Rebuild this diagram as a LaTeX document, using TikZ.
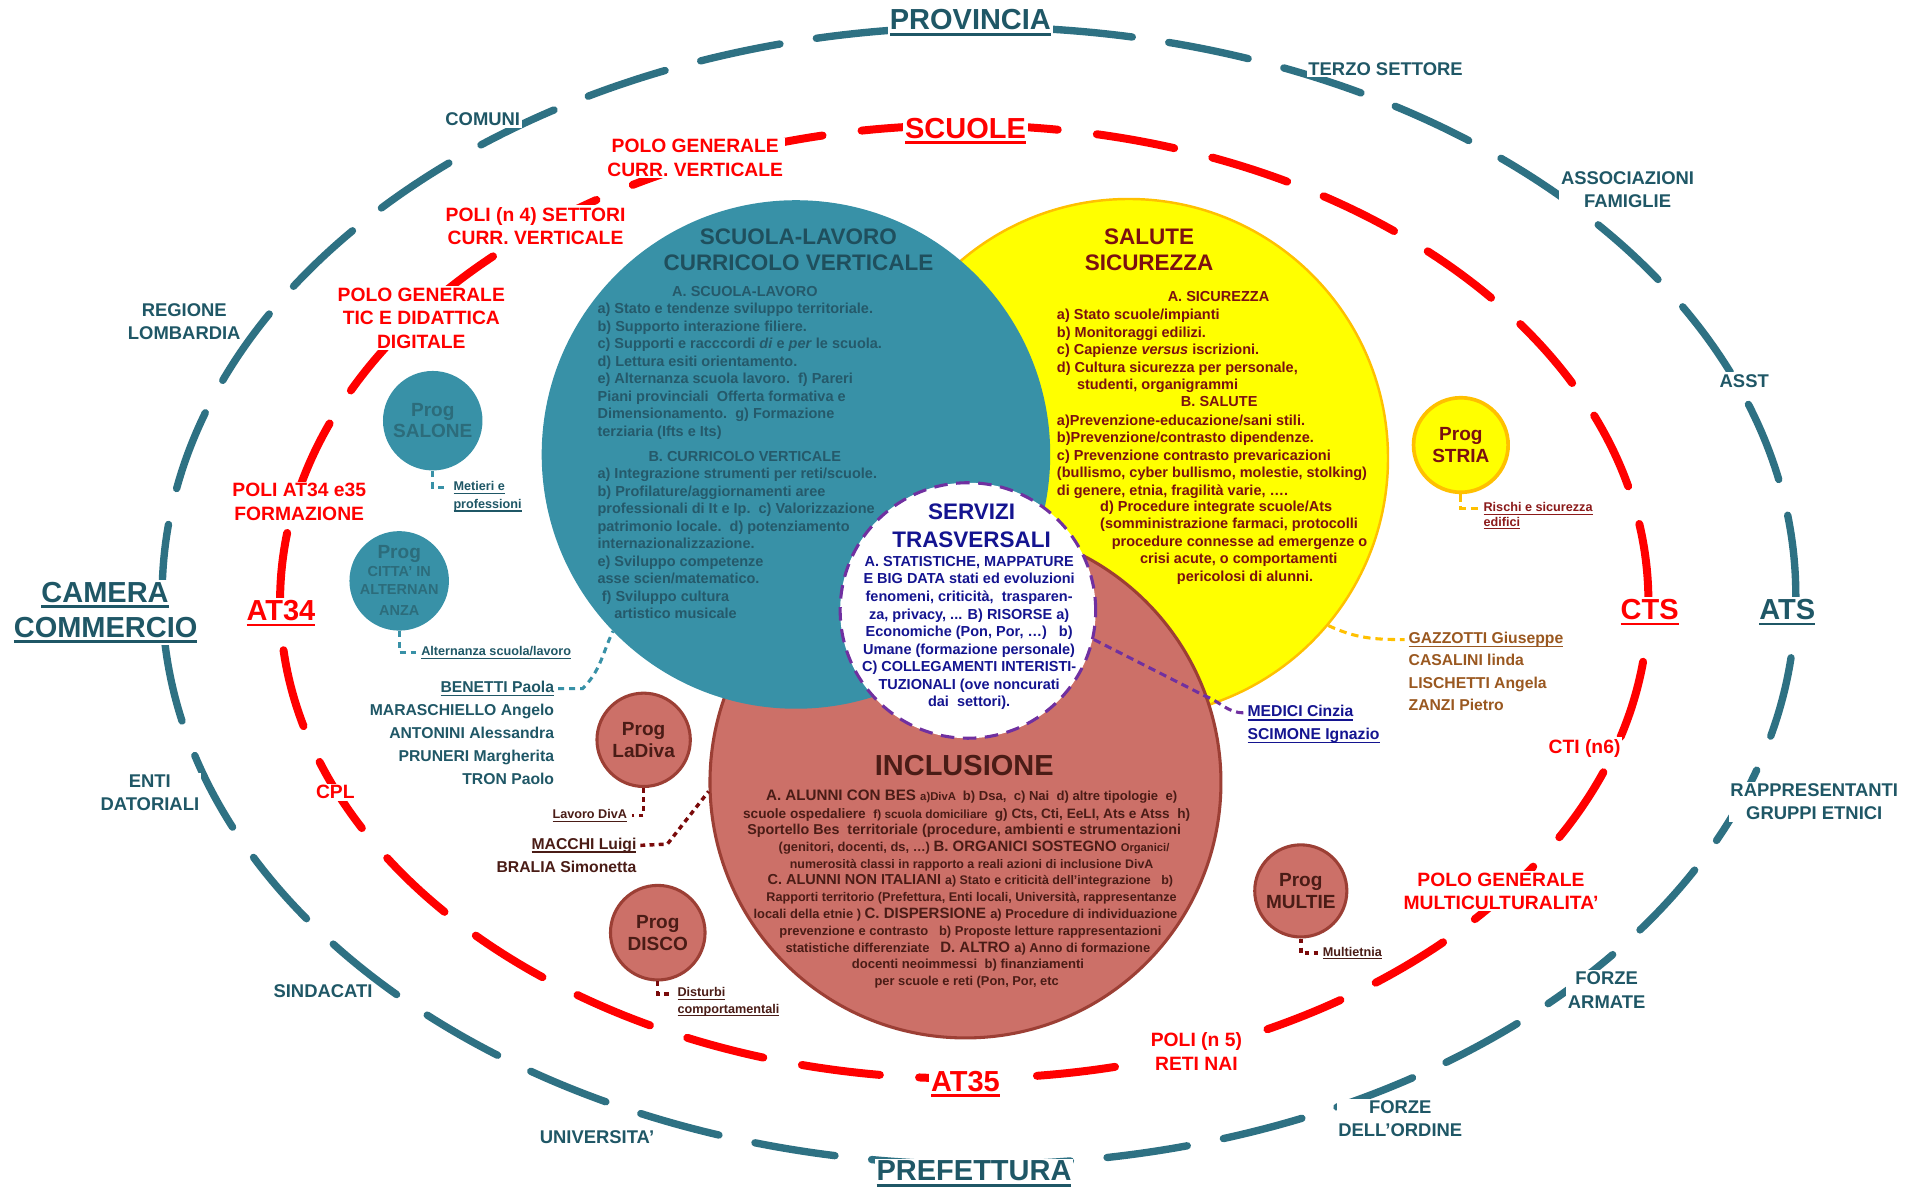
\documentclass[tikz,border=0pt]{standalone}
\usepackage{fontspec}
\setmainfont{Liberation Sans}
\usepackage{graphicx}
\usetikzlibrary{shapes.geometric}
\definecolor{tline}{HTML}{2E7183}
\definecolor{tlab}{HTML}{1F5766}
\definecolor{tfill}{HTML}{3891A7}
\definecolor{ttitle}{HTML}{1F4F5D}
\definecolor{tbody}{HTML}{25596A}
\definecolor{tsat}{HTML}{2C6C7B}
\definecolor{yfill}{HTML}{FFFF00}
\definecolor{yline}{HTML}{FFC000}
\definecolor{ytext}{HTML}{7B1010}
\definecolor{pfill}{HTML}{CC7068}
\definecolor{pline}{HTML}{9C3F35}
\definecolor{ptext}{HTML}{4A1C16}
\definecolor{dred}{HTML}{7A0A0A}
\definecolor{navyc}{HTML}{141490}
\definecolor{purp}{HTML}{7030A0}
\definecolor{brwn}{HTML}{9A5820}
\definecolor{rred}{HTML}{FF0000}
\definecolor{risk}{HTML}{8B1A1A}
\newcommand{\myfs}[2]{\fontsize{#1}{#2}\selectfont\bfseries}
\newsavebox{\myulbox}
\newcommand{\myul}[3]{\sbox\myulbox{#3}\rlap{\vrule width\wd\myulbox height -#2 depth \dimexpr#2+#1\relax}\usebox\myulbox}
\newcommand{\ulbig}[1]{\myul{2.2pt}{2.6pt}{#1}}
\newcommand{\ulmd}[1]{\myul{1.3pt}{2pt}{#1}}
\newcommand{\ulsm}[1]{\myul{0.9pt}{1.6pt}{#1}}
\newcommand{\incL}{\fontsize{12.3}{14}\selectfont}
\newcommand{\incM}{\fontsize{10.6}{13}\selectfont}
\newcommand{\incS}{\fontsize{9.2}{12}\selectfont}
\tikzset{
  lab/.style={fill=white, inner sep=1.5pt, align=center},
  tl/.style={lab, text=tlab, font=\myfs{15}{18.8}},
  tb/.style={lab, text=tlab, font=\myfs{23.6}{28.5}, anchor=base},
  rl/.style={lab, text=rred, font=\myfs{15.7}{19}},
  rb/.style={lab, text=rred, font=\myfs{23.6}{28.5}, anchor=base},
  tsatc/.style={circle, fill=tfill, minimum size=81pt, inner sep=0, text=tsat, font=\myfs{15.5}{17.5}, align=center},
  psat/.style={circle, fill=pfill, draw=pline, line width=2.5pt, minimum size=76pt, inner sep=0, text=ptext, font=\myfs{15.5}{18}, align=center},
  tcon/.style={tfill, line width=2.5pt, dash pattern=on 5pt off 4pt},
  rcon/.style={dred, line width=2.8pt, dash pattern=on 4pt off 3.5pt},
  ycon/.style={yline, line width=2.5pt, dash pattern=on 6pt off 4pt},
  pcon/.style={purp, line width=2.5pt, dash pattern=on 6pt off 4pt},
  sl/.style={inner sep=0, inner xsep=4pt, font=\myfs{10.3}{12}},
  tbx/.style={inner sep=0, text=tbody, font=\myfs{11.8}{14.27}},
  ybx/.style={inner sep=0, text=ytext, font=\myfs{11.8}{14.2}},
  pl/.style={anchor=base, inner sep=0, text=ptext, font=\bfseries},
  nm/.style={inner sep=0, font=\myfs{12.8}{18.5}},
}
\begin{document}
\begin{tikzpicture}[x=1pt,y=-1pt]
\useasboundingbox (0,0) rectangle (1568,966);
\fill[white] (0,0) rectangle (1568,966);

% ellipses
\draw[tline, line width=6pt, line cap=round, dash pattern=on 66pt off 30pt] (797,485) ellipse [x radius=665pt, y radius=463pt];
\draw[rred, line width=6.5pt, line cap=round, dash pattern=on 64pt off 32pt] (785,490) ellipse [x radius=557pt, y radius=388pt];

% teal labels
\node[tb] (provincia) at (790,24.4) {\ulbig{PROVINCIA}};
\node[tl] (comuni) at (393,97) {COMUNI};
\node[tl] (terzo) at (1128,56) {TERZO SETTORE};
\node[tl] (assoc) at (1325,154.5) {ASSOCIAZIONI\\FAMIGLIE};
\node[tl] (regione) at (150,261.5) {REGIONE\\LOMBARDIA};
\node[tl] (asst) at (1420,310) {ASST};
\node[tb] (camera1) at (85.5,490.2) {\ulbig{CAMERA}};
\node[tb] (camera2) at (86,518.7) {\ulbig{COMMERCIO}};
\node[tb] (ats) at (1455,504.4) {\ulbig{ATS}};
\node[tl] (enti) at (122,645.5) {ENTI\\DATORIALI};
\node[tl] (rappr) at (1477,653) {RAPPRESENTANTI\\GRUPPI ETNICI};
\node[tl] (sind) at (263,807) {SINDACATI};
\node[tl] (farm) at (1308,806) {FORZE\\ARMATE};
\node[tl] (univ) at (486,926) {UNIVERSITA’};
\node[tl] (ford) at (1140,911) {FORZE\\DELL’ORDINE};
\node[tb] (pref) at (793,961.4) {\ulbig{PREFETTURA}};

% red labels
\node[rb] (scuole) at (786,112.4) {\ulbig{SCUOLE}};
\node[rl] (pgcv) at (566,128.5) {POLO GENERALE\\CURR. VERTICALE};
\node[rl] (poli4) at (436,184) {POLI (n 4) SETTORI\\CURR. VERTICALE};
\node[rl] (pgtic) at (343,259) {POLO GENERALE\\TIC E DIDATTICA\\DIGITALE};
\node[rl] (poliat) at (243.6,408.7) {POLI AT34 e35\\FORMAZIONE};
\node[rb] (at34) at (228.7,505.1) {\ulbig{AT34}};
\node[rl] (cpl) at (273,645) {CPL};
\node[rb] (at35) at (786,888.4) {\ulbig{AT35}};
\node[rl] (poli5) at (974,856) {POLI (n 5)\\RETI NAI};
\node[rl] (pgmc) at (1222,725.5) {POLO GENERALE\\MULTICULTURALITA’};
\node[rl] (cti) at (1290,609) {CTI (n6)};
\node[rb] (cts) at (1343,504.4) {\ulbig{CTS}};

% big circles
\node[circle, fill=yfill, draw=yline, line width=2pt, minimum size=422pt, inner sep=0] (yel) at (919,373) {};
\node[circle, fill=pfill, draw=pline, line width=2.5pt, minimum size=416pt, inner sep=0] (pink) at (786,637) {};
\node[circle, fill=tfill, minimum size=414pt, inner sep=0] (teal) at (648,370) {};
\node[circle, fill=white, draw=purp, line width=2.5pt, dash pattern=on 11pt off 7pt, minimum size=208pt, inner sep=0] (serv) at (788,497) {};

% teal circle text
\node[anchor=north, inner sep=0, text=ttitle, font=\myfs{18.3}{21.2}, align=center] (ttitle) at (650,185.9) {SCUOLA-LAVORO\\CURRICOLO VERTICALE};
\node[tbx, anchor=north] (tAh) at (606.5,232.6) {A. SCUOLA-LAVORO};
\node[tbx, anchor=north west, align=left] (tA) at (486.3,246.6) {a) Stato e tendenze sviluppo territoriale.\\b) Supporto interazione filiere.\\c) Supporti e racccordi \textit{di} e \textit{per} le scuola.\\d) Lettura esiti orientamento.\\e) Alternanza scuola lavoro.\ \ f) Pareri\\Piani provinciali\ \ Offerta formativa e\\Dimensionamento.\ \ g) Formazione\\terziaria (Ifts e Its)};
\node[tbx, anchor=north] (tBh) at (606.3,366.9) {B. CURRICOLO VERTICALE};
\node[tbx, anchor=north west, align=left] (tB) at (486.3,380.9) {a) Integrazione strumenti per reti/scuole.\\b) Profilature/aggiornamenti aree\\professionali di It e Ip.\ \ c) Valorizzazione\\patrimonio locale.\ \ d) potenziamento\\internazionalizzazione.\\e) Sviluppo competenze\\asse scien/matematico.\\\hspace*{3.5pt}f) Sviluppo cultura\\\hspace*{13.6pt}artistico musicale};

% yellow circle text
\node[anchor=north, inner sep=0, text=ytext, font=\myfs{18.3}{21.7}, align=center] (ytitle) at (935.5,185.9) {SALUTE\\SICUREZZA};
\node[ybx, anchor=north] (yAh) at (992,237.4) {A. SICUREZZA};
\node[ybx, anchor=north west, align=left] (yA) at (860.3,251.5) {a) Stato scuole/impianti\\b) Monitoraggi edilizi.\\c) Capienze \textit{versus} iscrizioni.\\d) Cultura sicurezza per personale,\\\hspace*{16.3pt}studenti, organigrammi};
\node[ybx, anchor=north] (yBh) at (992.6,322.6) {B. SALUTE};
\node[ybx, anchor=north west, align=left] (yB) at (860.3,337.5) {a)Prevenzione-educazione/sani stili.\\b)Prevenzione/contrasto dipendenze.\\c) Prevenzione contrasto prevaricazioni\\(bullismo, cyber bullismo, molestie, stolking)\\di genere, etnia, fragilità varie, ….};
\node[ybx, anchor=north west, align=left] (yC) at (895.5,407.6) {d) Procedure integrate scuole/Ats\\(somministrazione farmaci, protocolli\\\hspace*{9.5pt}procedure connesse ad emergenze o\\\hspace*{32.5pt}crisi acute, o comportamenti\\\hspace*{62.5pt}pericolosi di alunni.};

% servizi text
\node[anchor=north, inner sep=0, text=navyc, font=\myfs{18.3}{22.4}, align=center] (stitle) at (791,410) {SERVIZI\\TRASVERSALI};
\node[anchor=north, inner sep=0, text=navyc, font=\myfs{11.8}{14.3}, align=center] (sbody) at (789,452.7) {A. STATISTICHE, MAPPATURE\\E BIG DATA stati ed evoluzioni\\fenomeni, criticità,\ \ trasparen-\\za, privacy, ... B) RISORSE a)\\Economiche (Pon, Por, …)\ \ \ b)\\Umane (formazione personale)\\C) COLLEGAMENTI INTERISTI-\\TUZIONALI (ove noncurati\\dai\ \ settori).};

% inclusione text
\node[anchor=base, inner sep=0, text=ptext, font=\myfs{23.6}{28}] (inctitle) at (785,631.4) {INCLUSIONE};
\node[pl] (inc1) at (791,652.1) {\resizebox{334.6pt}{!}{{\incL A. ALUNNI CON BES }{\incS a)DivA}\ \ {\incM b) Dsa,\ \ c) Nai\ \ d) altre tipologie\ \ e)}}};
\node[pl] (inc2) at (787,666.7) {\resizebox{364pt}{!}{{\incM scuole ospedaliere\ \ }{\incS f) scuola domiciliare}\ \ {\incM g) Cts, Cti, EeLI, Ats e Atss\ \ h)}}};
\node[pl] (inc3) at (785,679.7) {\resizebox{353pt}{!}{{\incM Sportello Bes\ \ territoriale (procedure, ambienti e strumentazioni}}};
\node[pl] (inc4) at (793,693.3) {\resizebox{318pt}{!}{{\incM (genitori, docenti, ds, …) }{\incL B. ORGANICI SOSTEGNO }{\incS Organici/}}};
\node[pl] (inc5) at (791,706.9) {\resizebox{296pt}{!}{{\incM numerosità classi in rapporto a reali azioni di inclusione DivA}}};
\node[pl] (inc6) at (790,719.9) {\resizebox{330pt}{!}{{\incL C. ALUNNI NON ITALIANI }{\incM a) Stato e criticità dell'integrazione\ \ \ b)}}};
\node[pl] (inc7) at (791,734) {\resizebox{334pt}{!}{{\incM Rapporti territorio (Prefettura, Enti locali, Università, rappresentanze}}};
\node[pl] (inc8) at (786,747.6) {\resizebox{345pt}{!}{{\incM locali della etnie ) }{\incL C. DISPERSIONE }{\incM a) Procedure di individuazione}}};
\node[pl] (inc9) at (790,761.2) {\resizebox{311pt}{!}{{\incM prevenzione e contrasto\ \ \ b) Proposte letture rappresentazioni}}};
\node[pl] (inc10) at (788,775.3) {\resizebox{297pt}{!}{{\incM statistiche differenziate\ \ \ }{\incL D. ALTRO }{\incM a) Anno di formazione}}};
\node[pl] (inc11) at (788,788.8) {\resizebox{189pt}{!}{{\incM docenti neoimmessi\ \ b) finanziamenti}}};
\node[pl] (inc12) at (787,802.4) {\resizebox{150pt}{!}{{\incM per scuole e reti (Pon, Por, etc}}};

% satellites
\node[tsatc] (salone) at (352.3,342.5) {Prog\\SALONE};
\node[tsatc] (citta) at (325,472.9) {};
\node[anchor=base, inner sep=0, text=tsat, font=\myfs{15.5}{17}] (cittaP) at (325,454.5) {Prog};
\node[anchor=base, inner sep=0, text=tsat, font=\myfs{11.8}{14}] (cittaA) at (325,469.6) {CITTA’ IN};
\node[anchor=base, inner sep=0, text=tsat, font=\myfs{11.8}{14}] (cittaB) at (325,484) {ALTERNAN};
\node[anchor=base, inner sep=0, text=tsat, font=\myfs{11.8}{14}] (cittaC) at (325,500.8) {ANZA};
\node[psat] (ladiva) at (524,602.3) {Prog\\LaDiva};
\node[psat, minimum size=77pt] (disco) at (535.5,759.3) {Prog\\DISCO};
\node[psat, minimum size=75pt] (multie) at (1059,725.3) {Prog\\MULTIE};
\node[circle, fill=yfill, draw=yline, line width=3pt, minimum size=77pt, inner sep=0, text=ytext, font=\myfs{15.5}{18.4}, align=center] (stria) at (1189.3,362.3) {Prog\\STRIA};

% small labels
\node[sl, text=tlab, anchor=base west] (met1) at (365,399.4) {\ulsm{Metieri e}};
\node[sl, text=tlab, anchor=base west] (met2) at (365,414) {\ulsm{professioni}};
\node[sl, text=tlab, anchor=base west] (alt) at (338.8,533.7) {\ulsm{Alternanza scuola/lavoro}};
\node[sl, text=ptext, anchor=base east] (lavoro) at (514.7,666.4) {\ulsm{Lavoro DivA}};
\node[sl, text=ptext, anchor=base west] (dist1) at (547.4,811.6) {\ulsm{Disturbi}};
\node[sl, text=ptext, anchor=base west] (dist2) at (547.4,824.7) {\ulsm{comportamentali}};
\node[sl, text=ptext, anchor=base west] (multi) at (1072.8,778.5) {\ulsm{Multietnia}};
\node[sl, text=risk, anchor=base west] (risc1) at (1203.6,416.7) {\ulsm{Rischi e sicurezza}};
\node[sl, text=risk, anchor=base west] (risc2) at (1203.6,428.4) {\ulsm{edifici}};

% names
\node[nm, text=tlab, inner xsep=3pt, anchor=base east] (benetti) at (454.3,563.6) {\ulmd{BENETTI Paola}};
\node[nm, text=tlab, align=right, anchor=north east] (tnames) at (451.3,573.3) {MARASCHIELLO Angelo\\ANTONINI Alessandra\\PRUNERI Margherita\\TRON Paolo};
\node[nm, text=brwn, inner xsep=3pt, anchor=base west] (gazz) at (1143.6,523.7) {\ulmd{GAZZOTTI Giuseppe}};
\node[nm, text=brwn, align=left, anchor=north west, font=\myfs{12.8}{18.35}] (ynames) at (1146.6,532.6) {CASALINI linda\\LISCHETTI Angela\\ZANZI Pietro};
\node[nm, text=navyc, inner xsep=3pt, anchor=base west] (medici) at (1012.5,583.3) {\ulmd{MEDICI Cinzia}};
\node[nm, text=navyc, inner xsep=3pt, anchor=base west] (scimone) at (1012.5,601.7) {\ulmd{SCIMONE Ignazio}};
\node[nm, text=ptext, inner xsep=3pt, anchor=base east] (macchi) at (521.3,691.2) {\ulmd{MACCHI Luigi}};
\node[nm, text=ptext, inner xsep=3pt, anchor=base east] (bralia) at (521.3,710.2) {BRALIA Simonetta};

% connectors
\coordinate (mbend) at (981,566.6);
\draw[tcon] (salone.south) |- (met1.west);
\draw[tcon] (citta.south) |- (alt.west);
\draw[tcon] (benetti.east) -- ++(20,0) to[out=45,in=-115] (teal.224);
\draw[rcon] (ladiva.south) |- (lavoro.east);
\draw[rcon] (macchi.east) -- ++(22,-1) -- (pink.182);
\draw[rcon] (disco.south) |- (dist1.west);
\draw[rcon] (multie.south) |- (multi.west);
\draw[ycon] (stria.south) |- (risc1.west);
\draw[ycon] (yel.-40) to[out=-25,in=180] (gazz.west);
\draw[pcon] (serv.-13) -- (mbend) to[out=-20,in=180] (medici.west);
\end{tikzpicture}
\end{document}
